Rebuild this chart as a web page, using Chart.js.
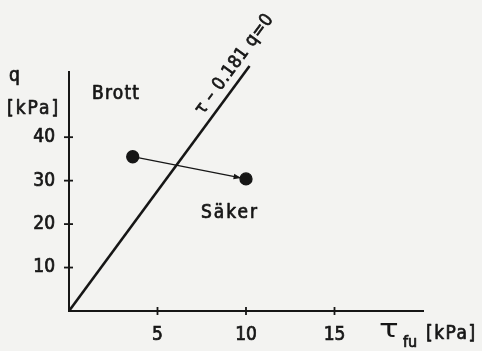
<!DOCTYPE html>
<html>
<head>
<meta charset="utf-8">
<script src="https://cdn.jsdelivr.net/npm/chart.js@4.4.0/dist/chart.umd.min.js"></script>
<style>
  html, body { margin: 0; padding: 0; background: #f3f3f1; }
  #wrap { width: 482px; height: 351px; position: relative; }
</style>
</head>
<body>
<div id="wrap"><canvas id="c"></canvas></div>
<script>
// données
const xTicks = [5, 10, 15];
const yTicks = [10, 20, 30, 40];
const failureLine = [{ x: 0, y: 0 }, { x: 10.2, y: 56.4 }]; // tau - 0.181 q = 0
const pathPoints = [{ x: 3.6, y: 35.5 }, { x: 10, y: 30.4 }];

const FONT = "'DejaVu Sans Condensed', 'DejaVu Sans', sans-serif";
const INK = "#161616";
const STROKE = 0.7; // épaissit un peu le lettrage

Chart.defaults.font.family = FONT;
Chart.defaults.font.size = 19;
Chart.defaults.color = INK;

// graduations, textes et flèche
const extras = {
  id: "extras",
  afterDraw(chart) {
    const ctx = chart.ctx;
    const xs = chart.scales.x, ys = chart.scales.y;
    const area = chart.chartArea;
    ctx.save();
    ctx.strokeStyle = INK;
    ctx.fillStyle = INK;
    ctx.lineWidth = 1.8;

    // graduations qui traversent l'axe
    xTicks.forEach((v) => {
      const px = xs.getPixelForValue(v);
      ctx.beginPath();
      ctx.moveTo(px, area.bottom - 4);
      ctx.lineTo(px, area.bottom + 4);
      ctx.stroke();
    });
    yTicks.forEach((v) => {
      const py = ys.getPixelForValue(v);
      ctx.beginPath();
      ctx.moveTo(area.left - 5, py);
      ctx.lineTo(area.left + 4, py);
      ctx.stroke();
    });

    // petite pointe de flèche contre le second point
    const p0 = { x: xs.getPixelForValue(pathPoints[0].x), y: ys.getPixelForValue(pathPoints[0].y) };
    const p1 = { x: xs.getPixelForValue(pathPoints[1].x), y: ys.getPixelForValue(pathPoints[1].y) };
    const ang = Math.atan2(p1.y - p0.y, p1.x - p0.x);
    const tip = { x: p1.x - 5 * Math.cos(ang), y: p1.y - 5 * Math.sin(ang) };
    ctx.beginPath();
    ctx.moveTo(tip.x, tip.y);
    ctx.lineTo(tip.x - 8 * Math.cos(ang - 0.35), tip.y - 8 * Math.sin(ang - 0.35));
    ctx.lineTo(tip.x - 8 * Math.cos(ang + 0.35), tip.y - 8 * Math.sin(ang + 0.35));
    ctx.closePath();
    ctx.fill();

    // textes
    ctx.lineWidth = STROKE;
    ctx.lineJoin = "round";
    const txt = (s, x, y) => { ctx.fillText(s, x, y); ctx.strokeText(s, x, y); };
    ctx.font = "19px " + FONT;
    ctx.textBaseline = "alphabetic";
    ctx.textAlign = "left";
    ctx.letterSpacing = "2px";
    txt("q", 9, 81);
    txt("[kPa]", 7, 114);
    ctx.letterSpacing = "1.2px";
    txt("Brott", 92, 99);
    ctx.letterSpacing = "2px";
    txt("Säker", 201, 218);
    ctx.letterSpacing = "1.5px";
    txt("[kPa]", 426, 339);

    ctx.letterSpacing = "0px";
    ctx.save();
    ctx.translate(379, 337);
    ctx.scale(1.45, 1);
    ctx.font = "25px " + FONT;
    ctx.fillText("τ", 0, 0);
    ctx.restore();
    ctx.font = "16px " + FONT;
    txt("fu", 403, 347);

    // étiquette le long de la droite de rupture
    const a = { x: xs.getPixelForValue(failureLine[0].x), y: ys.getPixelForValue(failureLine[0].y) };
    const b = { x: xs.getPixelForValue(failureLine[1].x), y: ys.getPixelForValue(failureLine[1].y) };
    const lineAng = Math.atan2(b.y - a.y, b.x - a.x);
    const t = 0.975;
    ctx.translate(a.x + (b.x - a.x) * t, a.y + (b.y - a.y) * t);
    ctx.rotate(lineAng);
    ctx.textAlign = "center";
    ctx.textBaseline = "middle";
    ctx.font = "18px " + FONT;
    ctx.letterSpacing = "0.5px";
    txt("τ – 0.181 q=0", 0, -13);
    ctx.restore();
  },
};

new Chart(document.getElementById("c"), {
  type: "scatter",
  data: {
    datasets: [
      {
        data: failureLine,
        showLine: true,
        borderColor: INK,
        borderWidth: 2.6,
        pointRadius: 0,
        clip: false,
      },
      {
        data: pathPoints,
        showLine: true,
        borderColor: INK,
        borderWidth: 1.3,
        pointRadius: 6,
        pointBackgroundColor: INK,
        pointBorderColor: INK,
        clip: false,
      },
    ],
  },
  options: {
    responsive: true,
    maintainAspectRatio: false,
    animation: false,
    layout: { padding: { left: 0, right: 59, top: 72, bottom: 0 } },
    plugins: { legend: { display: false }, tooltip: { enabled: false } },
    scales: {
      x: {
        type: "linear",
        min: 0,
        max: 20,
        afterBuildTicks: (s) => { s.ticks = xTicks.map((v) => ({ value: v })); },
        afterFit: (s) => { s.height = 40; },
        grid: { display: false, drawTicks: false },
        border: { display: true, color: INK, width: 2 },
        ticks: { padding: 13, maxRotation: 0, textStrokeColor: INK, textStrokeWidth: STROKE },
      },
      y: {
        type: "linear",
        min: 0,
        max: 55,
        afterBuildTicks: (s) => { s.ticks = yTicks.map((v) => ({ value: v })); },
        afterFit: (s) => { s.width = 69; },
        grid: { display: false, drawTicks: false },
        border: { display: true, color: INK, width: 2 },
        ticks: { padding: 14, textStrokeColor: INK, textStrokeWidth: STROKE },
      },
    },
  },
  plugins: [extras],
});
</script>
</body>
</html>
